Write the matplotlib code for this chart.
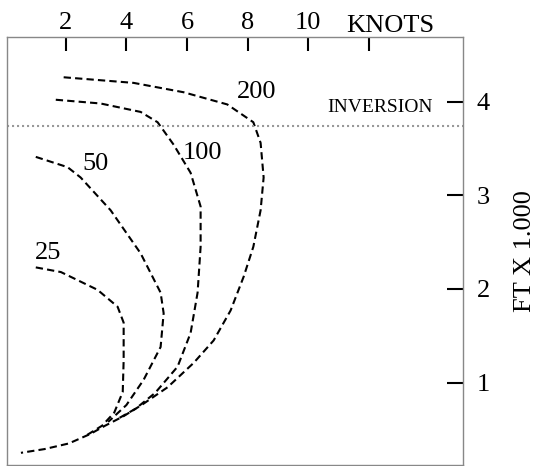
import matplotlib.pyplot as plt
import matplotlib.transforms as mtransforms

plt.rcParams['font.family'] = ['Liberation Serif', 'DejaVu Serif']

# wind speed (knots) vs height (ft x 1000), one dashed profile per label
# the 200 profile carries the shared low-level tail, the others end on it
k200 = [1.93, 4.24, 5.89, 7.33, 8.19, 8.43, 8.53, 8.43, 8.19, 7.87, 7.44,
        6.88, 6.22, 5.36, 4.5, 3.9, 3.3, 2.8, 2.1, 1.3, 0.52]
f200 = [4.26, 4.20, 4.10, 3.97, 3.78, 3.56, 3.19, 2.84, 2.45, 2.13, 1.77,
        1.45, 1.21, 0.95, 0.76, 0.64, 0.54, 0.45, 0.35, 0.29, 0.25]

k100 = [1.67, 3.15, 4.47, 5.03, 5.56, 6.12, 6.45, 6.45, 6.35, 6.12, 5.69,
        4.95, 4.30, 3.70]
f100 = [4.02, 3.98, 3.89, 3.78, 3.54, 3.24, 2.88, 2.45, 1.96, 1.53, 1.17,
        0.89, 0.72, 0.61]

k50 = [1.01, 2.06, 2.49, 3.48, 4.47, 5.13, 5.23, 5.13, 4.57, 4.00, 3.40]
f50 = [3.41, 3.30, 3.19, 2.84, 2.38, 1.96, 1.74, 1.38, 1.03, 0.76, 0.58]

k25 = [1.01, 1.84, 3.05, 3.71, 3.91, 3.91, 3.88, 3.60, 3.20, 2.70]
f25 = [2.23, 2.18, 1.99, 1.81, 1.64, 1.24, 0.90, 0.68, 0.54, 0.44]

profiles = [(k200, f200), (k100, f100), (k50, f50), (k25, f25)]
labels = ['200', '100', '50', '25']
label_pos = [(8.29, 4.10), (6.5, 3.45), (2.97, 3.33), (1.43, 2.38)]

inversion_ft = 3.74
xticks = [2, 4, 6, 8, 10, 12]
xticklabels = ['2', '4', '6', '8', '10', '']
yticks = [1, 2, 3, 4]

fig = plt.figure(figsize=(5.36, 4.66), dpi=100)
ax = fig.add_axes([7 / 536, 1 / 466, 456 / 536, 428 / 466])

for (k, f) in profiles:
    ax.plot(k, f, color='black', lw=1.5, linestyle=(0, (3.5, 2)))

for lab, (x, y) in zip(labels, label_pos):
    ax.text(x, y, lab, ha='center', va='center', fontsize=19)

ax.axhline(inversion_ft, color='#999999', lw=1.5, linestyle=(0, (1, 1.4)))
ax.text(14.12, 3.94, 'INVERSION', ha='right', va='center', fontsize=14)

ax.set_xlim(0.06, 15.11)
ax.set_ylim(0.12, 4.69)

ax.xaxis.tick_top()
ax.set_xticks(xticks)
ax.set_xticklabels(xticklabels)
ax.yaxis.tick_right()
ax.yaxis.set_label_position('right')
ax.set_yticks(yticks)
ax.tick_params(axis='x', direction='in', length=10, width=1.5, pad=2,
               labelsize=19)
ax.tick_params(axis='y', direction='in', length=11.5, width=1.5, pad=10,
               labelsize=19)
ax.set_ylabel('FT X 1.000', fontsize=19, labelpad=17)

# unit name sits a little right of the last tick
trans = mtransforms.blended_transform_factory(ax.transData, ax.transAxes)
ax.text(12.7, 1.0, 'KNOTS', transform=trans, ha='center', va='bottom',
        fontsize=19)

for s in ax.spines.values():
    s.set_color('#888888')
    s.set_linewidth(1)

fig.savefig('out.png', dpi=100)
